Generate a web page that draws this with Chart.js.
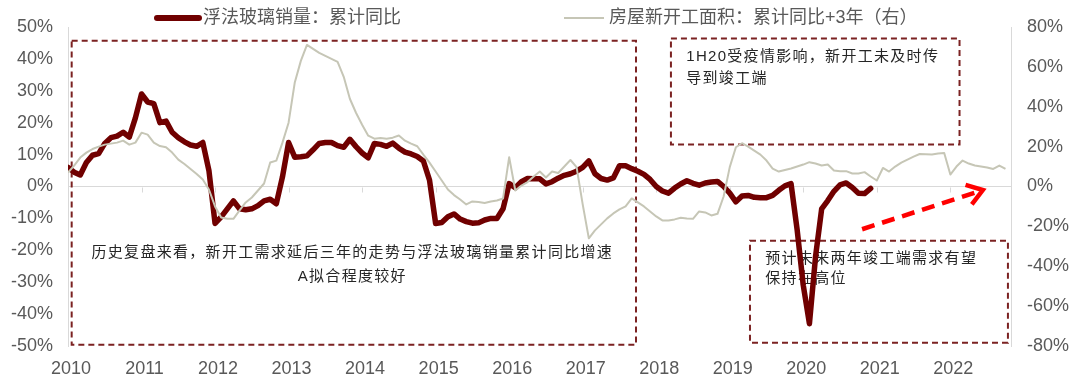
<!DOCTYPE html>
<html>
<head>
<meta charset="utf-8">
<script src="https://cdn.jsdelivr.net/npm/chart.js@4.4.1/dist/chart.umd.min.js"></script>
<style>
  html, body { margin: 0; padding: 0; background: #fff; }
  canvas { display: block; }
</style>
</head>
<body>
<canvas id="chart" width="1080" height="384"></canvas>
<script>
// ===== Data (monthly, starting Jan 2010) =====
const yearLabels = ['2010', '2011', '2012', '2013', '2014', '2015', '2016', '2017', '2018', '2019', '2020', '2021', '2022'];

// 浮法玻璃销量：累计同比 (%, left axis)
const glassSales = [
  6, 4.5, 3.6, 7.5, 9.8, 10.3, 13.5, 15.3, 15.8, 17,
  15.5, 21.5, 29, 26.5, 26, 20, 20.5, 17, 15.3, 14,
  13, 12.6, 13.8, 5, -11.6, -9.5, -7, -4.5, -7, -7.3,
  -7, -6, -4.5, -4, -5.4, 3, 13.8, 9.2, 9.3, 9.6,
  11.5, 13.5, 13.8, 13.8, 12.8, 12.3, 14.8, 12.5, 10.5, 9,
  13.5, 13.2, 12.6, 13.6, 12, 10.8, 10.2, 9.4, 8, 2,
  -11.6, -11.3, -9.5, -8.6, -10.2, -11, -11.5, -11.4, -10.5, -10,
  -10, -7, 0.9, -0.4, 1.5, 2.5, 2.4, 2.4, 0.8, 1.5,
  2.6, 3.5, 4, 4.8, 6, 8, 4, 2.5, 2, 2.7,
  6.5, 6.5, 5.6, 4.8, 3.8, 2.2, 0, -1.4, -2.1, -0.5,
  0.8, 1.8, 1, 0.4, 1.1, 1.4, 1.6, 0, -2.1, -4.8,
  -3, -2.8, -3.4, -3.5, -3.5, -2.8, -1.2, 0.2, 0.9, -13.6,
  -31, -43, -22, -7, -4.4, -1.5, 0.5, 1.1, -0.3, -2.1,
  -2.2, -0.6
];

// 房屋新开工面积：累计同比+3年 (%, right axis)
const housingStarts = [
  7, 10.5, 14.5, 17, 18.8, 20, 21, 21.5, 22, 23,
  21, 22, 27, 26, 22, 20.3, 19.7, 17, 13.5, 11.3,
  8.8, 6.3, 3.5, -1.5, -10, -15.5, -16.2, -16.2, -12, -8,
  -5.5, -2, 1.5, 12, 13, 22, 32, 52, 63, 71,
  69, 67, 65.5, 64, 62.5, 55, 44, 37, 31, 25.5,
  24, 24.3, 24, 24.5, 25.6, 23, 21.5, 20.2, 16, 12,
  7.5, 3, -1.5, -4.3, -6.5, -9, -7.5, -7.8, -8.3, -7.5,
  -7, -6, 14.7, -2, 0.5, 2.2, 5, 7.5, 4.5, 7.5,
  6.8, 10, 13.3, 9.7, -9, -26, -22, -19, -16, -13.5,
  -11.5, -10, -6, -8, -10, -12.5, -15, -17, -17, -16.5,
  -15.7, -16, -16.2, -12.5, -13, -14.5, -13.7, -5, 9.7, 19.7,
  21.7, 20, 18, 16, 13, 9, 7.5, 8.3, 9, 10,
  11, 12.2, 11.5, 10.5, 11, 8, 7.7, 7.7, 6.5, 6.5,
  7.2, 5, 3, 9.3, 7.5, 10, 12, 13.5, 15, 16.3,
  16.2, 16, 16.5, 16.8, 6, 10, 13, 11.5, 10.5, 10,
  9.5, 8.8, 10.5, 8.8
];

const seriesNames = ['浮法玻璃销量：累计同比', '房屋新开工面积：累计同比+3年（右）'];

// ===== Style =====
const RED = '#700000';
const GRAY = '#c6c6b6';
const AXIS = '#d9d9d9';
const TICK = '#595959';
const BOX = '#7b2222';
const NUM_FONT = '"Liberation Sans", Arial, sans-serif';
const CJK_FONT = '"Liberation Sans", "Noto Sans CJK SC", sans-serif';

// annotations in data units (month index, left-axis %)
const notes = [
  { box: [0.6, 45.7, 92.7, -49.6], lines: ['历史复盘来看，新开工需求延后三年的走势与浮法玻璃销量累计同比增速', 'A拟合程度较好'], at: [46.4, -20.8], align: 'center', gap: 24 },
  { box: [98.4, 46.4, 145.5, 13.2], lines: ['1H20受疫情影响，新开工未及时传', '导到竣工端'], at: [100.9, 40.6], align: 'left', gap: 22 },
  { box: [111.3, -17, 153.4, -49], lines: ['预计未来两年竣工端需求有望', '保持在高位'], at: [113.8, -22.8], align: 'left', gap: 20 }
];
const arrow = { from: [129.6, -13.4], to: [149.3, -1.1] };

const overlay = {
  id: 'overlay',
  beforeDatasetsDraw(chart) {
    const { ctx, scales: { x, y } } = chart;
    ctx.save();
    // small ticks on the zero line
    ctx.strokeStyle = AXIS; ctx.lineWidth = 1;
    const y0 = Math.round(y.getPixelForValue(0)) + 0.5;
    x.ticks.forEach(t => {
      const px = Math.round(x.getPixelForValue(t.value)) + 0.5;
      ctx.beginPath(); ctx.moveTo(px, y0); ctx.lineTo(px, y0 + 5); ctx.stroke();
    });
    // dashed boxes + notes
    notes.forEach(n => {
      const l = x.getPixelForValue(n.box[0]), t = y.getPixelForValue(n.box[1]);
      const r = x.getPixelForValue(n.box[2]), b = y.getPixelForValue(n.box[3]);
      ctx.setLineDash([6, 4]); ctx.strokeStyle = BOX; ctx.lineWidth = 2;
      ctx.strokeRect(l, t, r - l, b - t);
      ctx.setLineDash([]);
      ctx.fillStyle = '#262626';
      ctx.font = '15px ' + CJK_FONT;
      if ('letterSpacing' in ctx) ctx.letterSpacing = '1.3px';
      ctx.textAlign = n.align; ctx.textBaseline = 'middle';
      const tx = x.getPixelForValue(n.at[0]), ty = y.getPixelForValue(n.at[1]);
      n.lines.forEach((s, i) => ctx.fillText(s, tx, ty + i * n.gap));
      if ('letterSpacing' in ctx) ctx.letterSpacing = '0px';
    });
    ctx.restore();
  },
  afterDraw(chart) {
    const { ctx, scales: { x, y } } = chart;
    ctx.save();
    // red dashed arrow
    const x1 = x.getPixelForValue(arrow.from[0]), y1 = y.getPixelForValue(arrow.from[1]);
    const x2 = x.getPixelForValue(arrow.to[0]), y2 = y.getPixelForValue(arrow.to[1]);
    ctx.strokeStyle = '#ff0000'; ctx.lineWidth = 4.5;
    ctx.setLineDash([13, 8]);
    ctx.beginPath(); ctx.moveTo(x1, y1); ctx.lineTo(x2 - 3, y2 + 1); ctx.stroke();
    ctx.setLineDash([]);
    const ang = Math.atan2(y2 - y1, x2 - x1), len = 18, spread = 0.6;
    ctx.lineCap = 'butt'; ctx.lineJoin = 'miter';
    ctx.beginPath();
    ctx.moveTo(x2 - len * Math.cos(ang - spread), y2 - len * Math.sin(ang - spread));
    ctx.lineTo(x2, y2);
    ctx.lineTo(x2 - len * Math.cos(ang + spread), y2 - len * Math.sin(ang + spread));
    ctx.stroke();
    // legend
    ctx.font = '18px ' + CJK_FONT;
    ctx.fillStyle = TICK; ctx.textBaseline = 'middle'; ctx.textAlign = 'left';
    ctx.lineCap = 'round';
    ctx.strokeStyle = RED; ctx.lineWidth = 6;
    ctx.beginPath(); ctx.moveTo(157, 18); ctx.lineTo(199, 18); ctx.stroke();
    ctx.fillText(seriesNames[0], 203, 18);
    ctx.strokeStyle = GRAY; ctx.lineWidth = 2; ctx.lineCap = 'butt';
    ctx.beginPath(); ctx.moveTo(564, 18); ctx.lineTo(604, 18); ctx.stroke();
    ctx.fillText(seriesNames[1], 609, 18);
    ctx.restore();
  }
};

new Chart(document.getElementById('chart'), {
  type: 'line',
  data: {
    datasets: [
      {
        label: seriesNames[0], data: glassSales.map((v, i) => ({ x: i, y: v })),
        borderColor: RED, borderWidth: 5.5, pointRadius: 0, tension: 0,
        borderJoinStyle: 'round', borderCapStyle: 'round', yAxisID: 'y', order: 2
      },
      {
        label: seriesNames[1], data: housingStarts.map((v, i) => ({ x: i, y: v })),
        borderColor: GRAY, borderWidth: 2, pointRadius: 0, tension: 0,
        borderJoinStyle: 'round', yAxisID: 'y2', order: 1
      }
    ]
  },
  options: {
    responsive: false, animation: false, devicePixelRatio: 1,
    layout: { padding: { top: 27, left: 0, right: 0, bottom: 0 } },
    plugins: { legend: { display: false }, tooltip: { enabled: false } },
    scales: {
      x: {
        type: 'linear', min: 0, max: 153.9,
        afterBuildTicks: s => { s.ticks = yearLabels.map((_, i) => ({ value: i * 12 })); },
        afterFit: s => { s.height = 38; },
        ticks: {
          autoSkip: false, maxRotation: 0, padding: 4, labelOffset: 3,
          color: TICK, font: { family: NUM_FONT, size: 18 },
          callback: (v, i) => yearLabels[i]
        },
        grid: { display: false }, border: { display: false }
      },
      y: {
        position: 'left', min: -50, max: 50,
        afterFit: s => { s.width = 68; },
        ticks: { stepSize: 10, padding: 15, color: TICK, font: { family: NUM_FONT, size: 18 }, callback: v => v + '%' },
        grid: { drawTicks: false, color: c => (c.tick && c.tick.value === 0 ? AXIS : 'rgba(0,0,0,0)') },
        border: { display: true, color: AXIS, width: 1 }
      },
      y2: {
        position: 'right', min: -80, max: 80,
        afterFit: s => { s.width = 69; },
        ticks: { stepSize: 20, padding: 16, color: TICK, font: { family: NUM_FONT, size: 18 }, callback: v => v + '%' },
        grid: { drawOnChartArea: false, drawTicks: false },
        border: { display: true, color: AXIS, width: 1 }
      }
    }
  },
  plugins: [overlay]
});
</script>
</body>
</html>
